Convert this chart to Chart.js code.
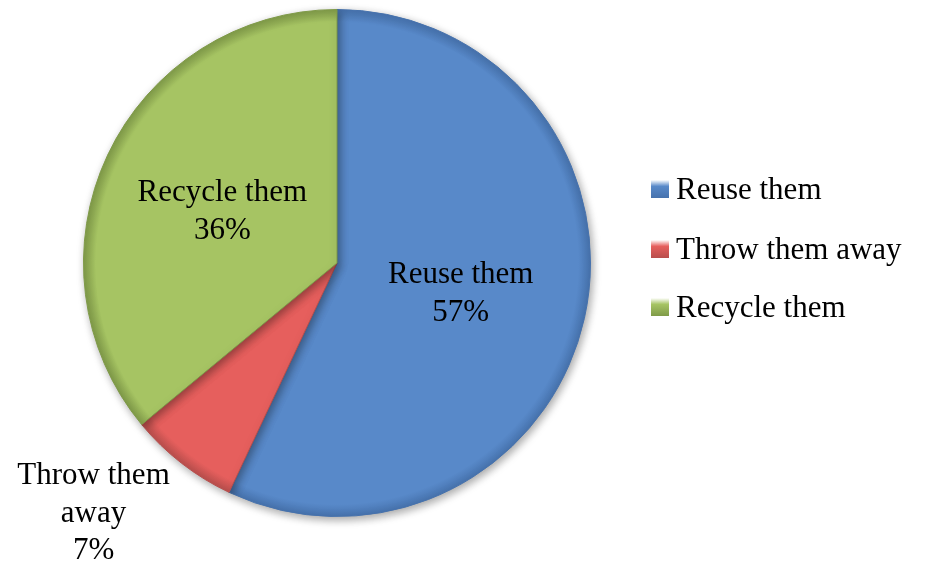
<!DOCTYPE html>
<html>
<head>
<meta charset="utf-8">
<script src="https://cdn.jsdelivr.net/npm/chart.js@4/dist/chart.umd.min.js"></script>
<style>
html,body{margin:0;padding:0;background:#fff;}
#wrap{width:929px;height:564px;}
</style>
</head>
<body>
<div id="wrap"><canvas id="pie" width="929" height="564"></canvas></div>
<script>
// chart data
const labels = ["Reuse them", "Throw them away", "Recycle them"];
const shares = [57, 7, 36];
const pctLabels = ["57%", "7%", "36%"];
const sliceColors = ["#5889c9", "#e65f5d", "#a6c463"];
const edgeColors = ["#4672ad", "#b84e4c", "#7f9a48"];

const FONT = '"Liberation Serif", "DejaVu Serif", serif';

// soft shadow + slice labels + legend
const decor = {
  id: "decor",
  beforeDatasetsDraw(chart){
    const ctx = chart.ctx;
    ctx.save();
    ctx.shadowColor = "rgba(0,0,0,0.35)";
    ctx.shadowBlur = 8;
    ctx.shadowOffsetX = 2;
    ctx.shadowOffsetY = 3;
  },
  afterDatasetsDraw(chart){
    const ctx = chart.ctx;
    ctx.restore();
    const meta = chart.getDatasetMeta(0);
    ctx.save();
    ctx.fillStyle = "#000";
    ctx.font = "31px " + FONT;
    ctx.textAlign = "center";
    ctx.textBaseline = "middle";
    meta.data.forEach((arc, i) => {
      const mid = (arc.startAngle + arc.endAngle) / 2;
      if (i === 1) {
        // small slice: label sits outside, lower left
        const r = arc.outerRadius * 1.2;
        const x = arc.x + Math.cos(mid) * r - 57;
        const y = arc.y + Math.sin(mid) * r + 10;
        ctx.fillText("Throw them", x, y - 38);
        ctx.fillText("away", x, y);
        ctx.fillText(pctLabels[i], x, y + 37);
      } else {
        const p = arc.tooltipPosition();
        ctx.fillText(labels[i], p.x, p.y - 16);
        ctx.fillText(pctLabels[i], p.x, p.y + 22);
      }
    });

    // legend
    ctx.textAlign = "left";
    const lx = 651, ly = [189, 249, 307];
    labels.forEach((t, i) => {
      const g = ctx.createLinearGradient(0, ly[i] - 9, 0, ly[i] + 9);
      g.addColorStop(0, "#ffffff");
      g.addColorStop(0.35, sliceColors[i]);
      g.addColorStop(1, edgeColors[i]);
      ctx.fillStyle = g;
      ctx.fillRect(lx, ly[i] - 9, 18, 18);
      ctx.fillStyle = "#000";
      ctx.fillText(t, lx + 25, ly[i] + 2);
    });
    ctx.restore();
  }
};

function sliceFill(context){
  const chart = context.chart;
  const i = context.dataIndex;
  const area = chart.chartArea;
  if (!area) return sliceColors[i];
  const cx = (area.left + area.right) / 2, cy = (area.top + area.bottom) / 2;
  const r = Math.min(area.right - area.left, area.bottom - area.top) / 2;
  const g = chart.ctx.createRadialGradient(cx, cy, 0, cx, cy, r);
  g.addColorStop(0, sliceColors[i]);
  g.addColorStop(0.95, sliceColors[i]);
  g.addColorStop(1, edgeColors[i]);
  return g;
}

new Chart(document.getElementById("pie"), {
  type: "pie",
  data: {
    labels: labels,
    datasets: [{
      data: shares,
      backgroundColor: sliceFill,
      borderColor: edgeColors,
      borderWidth: 1
    }]
  },
  options: {
    responsive: false,
    animation: false,
    layout: { padding: { left: 83, right: 338, top: 9, bottom: 47 } },
    plugins: {
      legend: { display: false },
      tooltip: { enabled: false }
    }
  },
  plugins: [decor]
});
</script>
</body>
</html>
